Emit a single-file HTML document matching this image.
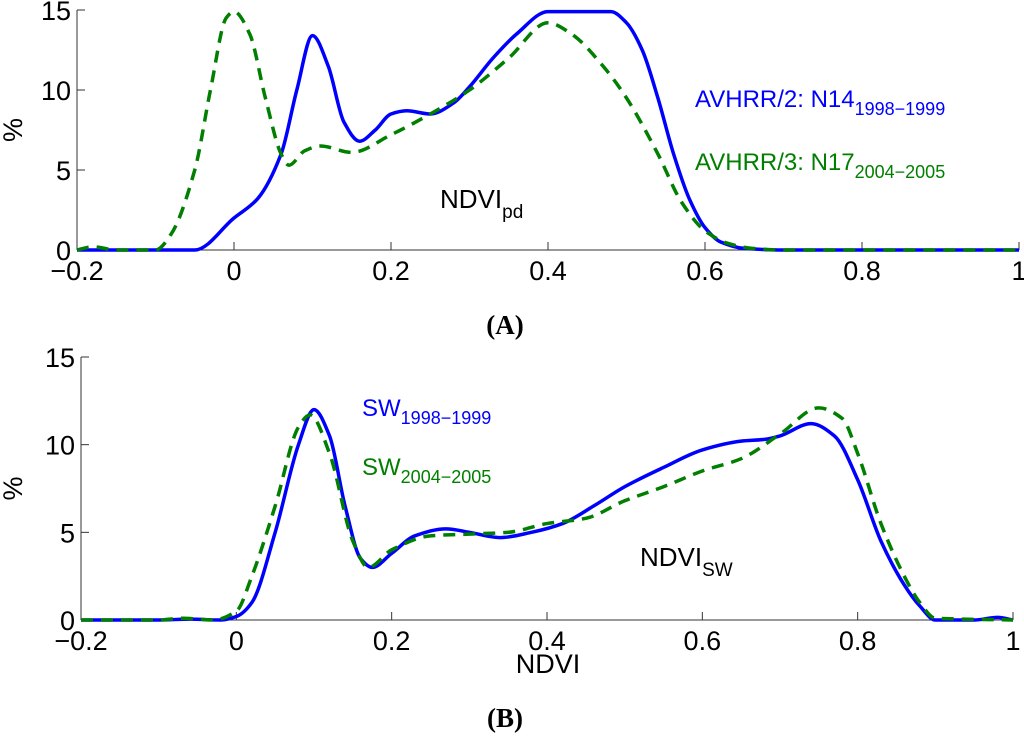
<!DOCTYPE html>
<html><head><meta charset="utf-8"><style>
body{margin:0;background:#fff}
svg{display:block;font-family:"Liberation Sans",sans-serif}
</style></head><body>
<svg id="c" width="1024" height="739" viewBox="0 0 1024 739">
<g id="top"></g>
<g id="bot"></g>
<text x="695" y="107" fill="#0000ff" font-size="24">AVHRR/2: N14<tspan font-size="18" dy="8">1998−1999</tspan></text>
<text x="695" y="170" fill="#007f00" font-size="24">AVHRR/3: N17<tspan font-size="18" dy="8">2004−2005</tspan></text>
<text x="440" y="208" fill="#000" font-size="26">NDVI<tspan font-size="19" dy="10">pd</tspan></text>
<text x="505" y="334" font-family="Liberation Serif,serif" font-weight="bold" font-size="27" text-anchor="middle">(A)</text>
<text x="362" y="416" fill="#0000ff" font-size="24">SW<tspan font-size="18" dy="8">1998−1999</tspan></text>
<text x="362" y="475" fill="#007f00" font-size="24">SW<tspan font-size="18" dy="8">2004−2005</tspan></text>
<text x="640" y="566" fill="#000" font-size="26">NDVI<tspan font-size="19" dy="10">SW</tspan></text>
<text x="548" y="673" font-size="27" text-anchor="middle">NDVI</text>
<text x="505" y="727" font-family="Liberation Serif,serif" font-weight="bold" font-size="27" text-anchor="middle">(B)</text>
</svg>
<script>
const xTicks=[-0.2,0,0.2,0.4,0.6,0.8,1];
const xTickLabels=["−0.2","0","0.2","0.4","0.6","0.8","1"];
const yTicks=[0,5,10,15];
const topBlueX=[-0.2,-0.05,0,0.03,0.06,0.08,0.1,0.12,0.14,0.16,0.18,0.2,0.22,0.25,0.28,0.3,0.33,0.36,0.4,0.44,0.48,0.5,0.52,0.54,0.56,0.58,0.6,0.62,0.65,0.7,1];
const topBlueY=[0,0,2,3.2,6,10,13.4,11.5,8,6.8,7.5,8.5,8.7,8.5,9.2,10.2,12,13.5,14.9,14.9,14.9,14.2,12.5,9.5,6,3.2,1.4,0.5,0.1,0,0];
const topGreenX=[-0.2,-0.18,-0.15,-0.1,-0.08,-0.05,-0.03,-0.01,0,0.02,0.04,0.06,0.07,0.09,0.11,0.15,0.2,0.25,0.3,0.35,0.4,0.43,0.47,0.5,0.54,0.57,0.6,0.63,0.66,0.7,1];
const topGreenY=[0,0.2,0,0,1,5,10,14.5,14.9,13.5,9.5,6,5.3,6.2,6.5,6.1,7.2,8.5,10,12,14.2,13.5,11.5,9.5,6,3,1.2,0.4,0.1,0,0];
const botBlueX=[-0.2,-0.1,-0.06,-0.02,0,0.02,0.05,0.08,0.1,0.12,0.14,0.16,0.175,0.2,0.23,0.27,0.3,0.34,0.38,0.42,0.46,0.5,0.55,0.6,0.65,0.68,0.7,0.74,0.77,0.8,0.83,0.86,0.88,0.9,0.95,0.98,1];
const botBlueY=[0,0,0.05,0,0.2,1,5,10,12,10.5,6.5,3.5,3,3.8,4.8,5.2,5,4.7,5,5.5,6.5,7.6,8.7,9.7,10.2,10.3,10.5,11.2,10.5,8,4.5,2,0.8,0,0,0.15,0];
const botGreenX=[-0.2,-0.1,-0.07,-0.03,0,0.02,0.05,0.08,0.095,0.12,0.15,0.17,0.2,0.25,0.3,0.35,0.4,0.45,0.5,0.55,0.6,0.65,0.7,0.75,0.78,0.8,0.83,0.86,0.88,0.9,1];
const botGreenY=[0,0,0.1,0,0.5,2.5,6.5,11,11.7,9.5,4.5,3,4,4.8,4.9,5,5.5,5.8,6.8,7.6,8.5,9.2,10.6,12.1,11.5,9.5,5.5,2.5,1,0.1,0];
const NS="http://www.w3.org/2000/svg";
function mk(t,a,p){const e=document.createElementNS(NS,t);for(const k in a)e.setAttribute(k,a[k]);p.appendChild(e);return e;}
function path(xs,ys,sx,sy){
const n=xs.length,d=[],m=[];
for(let i=0;i<n-1;i++)d.push((ys[i+1]-ys[i])/(xs[i+1]-xs[i]));
for(let i=0;i<n;i++){if(i==0)m.push(d[0]);else if(i==n-1)m.push(d[n-2]);else m.push(d[i-1]*d[i]<=0?0:2/(1/d[i-1]+1/d[i]));}
let s="M"+sx(xs[0])+","+sy(ys[0]);
for(let i=0;i<n-1;i++){const h=xs[i+1]-xs[i];
s+=" C"+sx(xs[i]+h/3)+","+sy(ys[i]+m[i]*h/3)+" "+sx(xs[i+1]-h/3)+","+sy(ys[i+1]-m[i+1]*h/3)+" "+sx(xs[i+1])+","+sy(ys[i+1]);}
return s;}
function panel(g,x0,x1,y0,y15,bx,by,gx,gy,pfx){
const sx=v=>x0+(v+0.2)/1.2*(x1-x0), sy=v=>y0+(y15-y0)*v/15;
let e=mk("line",{x1:x0,y1:y15,x2:x0,y2:y0,stroke:"#333","stroke-width":1},g);


e=mk("line",{x1:x0,y1:y0,x2:x1,y2:y0,stroke:"#333","stroke-width":1},g);


xTicks.forEach((t,i)=>{mk("line",{x1:sx(t),x2:sx(t),y1:y0,y2:y0-8,stroke:"#333"},g);
const tx=mk("text",{x:sx(t),y:y0+30,"font-size":27,"text-anchor":"middle"},g);tx.textContent=xTickLabels[i];

});
yTicks.forEach(t=>{mk("line",{x1:x0,x2:x0+8,y1:sy(t),y2:sy(t),stroke:"#333"},g);
const tx=mk("text",{x:x0-6,y:sy(t)+10,"font-size":27,"text-anchor":"end"},g);tx.textContent=t;

});
const yl=mk("text",{x:0,y:0,"font-size":27,"text-anchor":"middle",transform:"translate(22,"+((y0+y15)/2)+") rotate(-90)"},g);yl.textContent="%";


const b=mk("path",{d:path(bx,by,sx,sy),fill:"none",stroke:"#0000ff","stroke-width":3.5},g);


const gr=mk("path",{d:path(gx,gy,sx,sy),fill:"none",stroke:"#007f00","stroke-width":3.5,"stroke-dasharray":"12,8"},g);

}
panel(document.getElementById("top"),77,1019,250,10,topBlueX,topBlueY,topGreenX,topGreenY,"top");
panel(document.getElementById("bot"),81,1013,620,357,botBlueX,botBlueY,botGreenX,botGreenY,"bottom");
</script>
</body></html>
